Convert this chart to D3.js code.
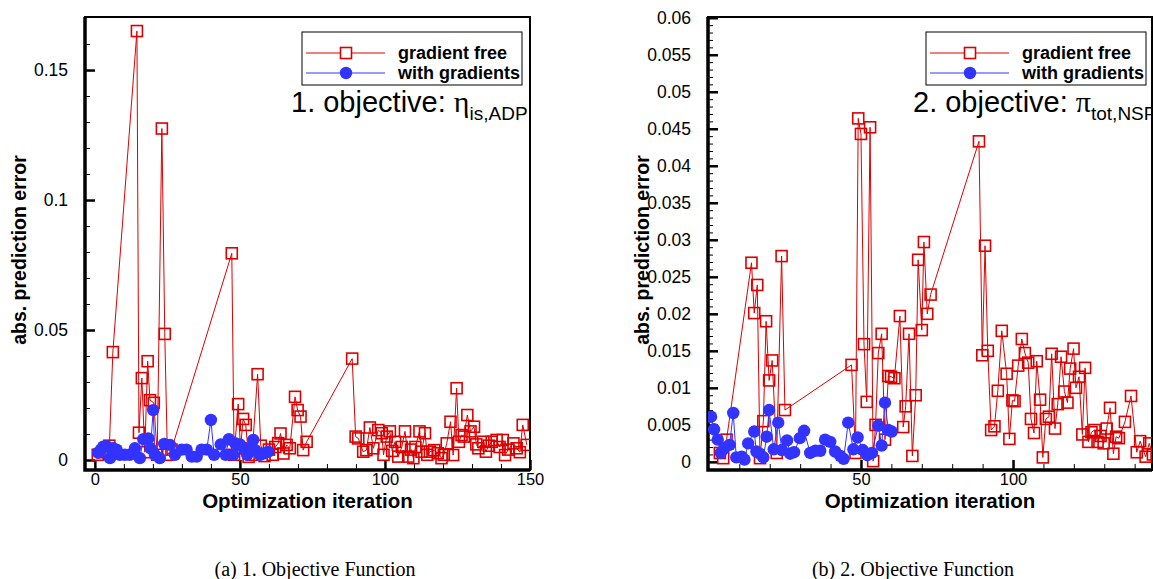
<!DOCTYPE html>
<html>
<head>
<meta charset="utf-8">
<script src="https://cdn.jsdelivr.net/npm/d3@7"></script>
<style>
  html, body { margin: 0; padding: 0; background: #fff; }
  svg { display: block; }
  .tick text { font-family: "Liberation Sans", Arial, sans-serif; font-size: 17.5px; fill: #000; }
  .xax .tick text { font-size: 16.5px; }
  .ttl { font-family: "Liberation Sans", Arial, sans-serif; font-weight: bold; fill: #000; }
  .cap { font-family: "Liberation Serif", "Times New Roman", serif; fill: #000; }
</style>
</head>
<body>
<svg id="chart" width="1153" height="579"></svg>
<script>
// Prediction error per optimization iteration: [iteration, error]
const etaGradFree = [
  [1, 0.002], [2.5, 0.003], [4, 0.004], [5, 0.0055], [6.2, 0.0415], [14.5, 0.165], [15.2, 0.0105],
  [16.2, 0.0315], [17.2, 0.003], [18.2, 0.038], [19, 0.023], [20.3, 0.022], [21.5, 0.002],
  [23.1, 0.1275], [24.1, 0.0485], [25, 0.002], [26.4, 0.004], [47.2, 0.0795], [48, 0.002],
  [49.4, 0.0215], [50.2, 0.0045], [51.1, 0.0158], [52, 0.0135], [53, 0.0012], [54.2, 0.002],
  [56.1, 0.033], [57.2, 0.0055], [58.5, 0.0015], [60, 0.004], [61.3, 0.002], [62.2, 0.005],
  [63.2, 0.0065], [64, 0.0102], [65, 0.0025], [66.1, 0.0058], [67.2, 0.0045], [69, 0.0243],
  [69.9, 0.0192], [70.9, 0.0167], [71.8, 0.0038], [73, 0.007], [88.7, 0.039], [89.9, 0.009],
  [90.8, 0.0083], [92.5, 0.0032], [93.6, 0.0038], [94.8, 0.0125], [96, 0.0045], [97.7, 0.0115],
  [98.9, 0.0103], [99.5, 0.002], [100.6, 0.009], [101.7, 0.011], [102.5, 0.0035], [103.5, 0.007],
  [104.6, 0.0013], [105.8, 0.005], [106.9, 0.011], [108, 0.0013], [109, 0.004], [109.8, 0.0007],
  [110.5, 0.005], [111.9, 0.011], [112.6, 0.0032], [113.8, 0.0103], [114.6, 0.002], [115.5, 0.0032],
  [117, 0.0038], [118.2, 0.0026], [119.5, 0.0007], [120.3, 0.002], [121.3, 0.0064], [122.6, 0.0147],
  [123.5, 0.0019], [124.7, 0.0276], [125.5, 0.007], [126.4, 0.0096], [127.2, 0.009], [128.4, 0.0173],
  [129.5, 0.011], [130.7, 0.0128], [131.5, 0.006], [132.2, 0.0045], [133.9, 0.007], [134.8, 0.0032],
  [135.8, 0.0055], [136.8, 0.007], [138.5, 0.0077], [139.5, 0.005], [140.6, 0.0077], [141.4, 0.0019],
  [142.5, 0.004], [144.3, 0.0064], [145.4, 0.0045], [146.5, 0.003], [147.5, 0.0135], [148.9, 0.0058]
];

const etaWithGrad = [
  [1.1, 0.0028], [2.2, 0.004], [2.9, 0.0051], [4, 0.0053], [5.2, 0.0007], [6.3, 0.0045], [7.5, 0.004],
  [8.6, 0.002], [10.3, 0.002], [12, 0.002], [13.8, 0.0045], [15.5, 0.0007], [16.7, 0.008], [18.4, 0.0083],
  [19.2, 0.0045], [20.1, 0.0192], [20.7, 0.002], [22.4, 0.0007], [23.9, 0.0062], [25.9, 0.0058],
  [27.6, 0.002], [29.9, 0.004], [31.6, 0.004], [33.4, 0.0013], [35.1, 0.0013], [36.8, 0.004],
  [38.6, 0.004], [40, 0.0154], [41.1, 0.002], [43.4, 0.006], [45.1, 0.002], [46.2, 0.008], [47.7, 0.002],
  [48.3, 0.0065], [49.2, 0.0058], [50, 0.006], [51.4, 0.0045], [52.5, 0.002], [53.5, 0.0045],
  [54.6, 0.0077], [55.3, 0.0038], [56.9, 0.002], [58.6, 0.0026], [59.8, 0.0032]
];

const piGradFree = [
  [3.6, 0.0012], [4.7, 0.0005], [5.8, 0.003], [14, 0.0269], [14.9, 0.0201], [15.9, 0.0239], [16.8, 0.0005],
  [17.9, 0.0055], [18.8, 0.019], [19.8, 0.011], [20.8, 0.0137], [22.3, 0.0012], [23.9, 0.0278], [25, 0.007],
  [46.9, 0.0131], [48.2, 0.0012], [49.1, 0.0464], [50, 0.0443], [51, 0.0159], [51.9, 0.0081], [53, 0.0452],
  [54, 0.0001], [54.8, 0.005], [55.7, 0.0147], [56.8, 0.0173], [57.9, 0.003], [59, 0.0116], [59.9, 0.0115],
  [61, 0.0113], [62.8, 0.0197], [63.9, 0.0047], [64.7, 0.0075], [65.8, 0.0173], [66.9, 0.0008], [68, 0.009],
  [68.8, 0.0273], [70, 0.0178], [70.7, 0.0297], [71.8, 0.02], [72.9, 0.0226], [88.8, 0.0433], [89.9, 0.0144],
  [90.8, 0.0292], [91.7, 0.015], [92.8, 0.0043], [93.9, 0.0048], [95, 0.0096], [96.3, 0.0177], [97.9, 0.0119],
  [98.8, 0.0031], [99.8, 0.0083], [100.5, 0.0082], [101.7, 0.013], [102.9, 0.0166], [103.9, 0.0147],
  [105, 0.0134], [105.9, 0.0058], [106.9, 0.0039], [107.8, 0.0136], [108.9, 0.0084], [109.8, 0.0006],
  [110.8, 0.0058], [111.8, 0.0061], [112.7, 0.0146], [113.8, 0.0045], [114.7, 0.0078], [115.8, 0.0142],
  [116.9, 0.0095], [117.9, 0.008], [118.8, 0.0126], [119.9, 0.0153], [120.7, 0.01], [121.7, 0.0115],
  [122.8, 0.0037], [123.7, 0.0127], [124.8, 0.0027], [125.8, 0.004], [126.8, 0.0043], [127.8, 0.0027],
  [128.8, 0.0035], [129.8, 0.0025], [130.8, 0.0045], [131.9, 0.0073], [133, 0.0011], [133.9, 0.0034],
  [134.8, 0.0032], [136.8, 0.0054], [138.8, 0.0089], [140.7, 0.0013], [141.8, 0.0028], [143.6, 0.0007],
  [144.8, 0.0025], [146, 0.001]
];

const piWithGrad = [
  [0.7, 0.0061], [1.7, 0.0044], [2.9, 0.003], [3.9, 0.0012], [5.2, 0.0019], [6.8, 0.0023], [8, 0.0066],
  [9, 0.0006], [10.8, 0.0007], [11.7, 0.0003], [12.9, 0.0025], [14.9, 0.0041], [15.6, 0.0014], [16.7, 0.0011],
  [17.9, 0.0006], [19, 0.0034], [19.8, 0.007], [21.3, 0.0017], [22.8, 0.0053], [24, 0.0016], [25.7, 0.0029],
  [26.7, 0.0011], [28, 0.0013], [29.9, 0.0032], [31.3, 0.0042], [33.3, 0.0012], [35, 0.0015], [36.6, 0.0015],
  [38.2, 0.003], [39.9, 0.0027], [41.5, 0.0014], [43.2, 0.0008], [44.3, 0.0004], [45.8, 0.0053],
  [47.5, 0.0017], [48.9, 0.0033], [50.6, 0.0016], [52.1, 0.0009], [53.6, 0.0012], [55.7, 0.0049],
  [56.8, 0.0022], [57.9, 0.008], [59, 0.0043], [60.1, 0.0041]
];

const seriesNames = ['gradient free', 'with gradients'];
const etaYTicks = [0, 0.05, 0.1, 0.15];
const piYTicks = [0, 0.005, 0.01, 0.015, 0.02, 0.025, 0.03, 0.035, 0.04, 0.045, 0.05, 0.055, 0.06];
const etaXTicks = [0, 50, 100, 150];
const piXTicks = [50, 100];

const RED = '#dd0000';
const BLUE = '#3333ff';
const svg = d3.select('#chart');

/* one panel: frame, axes, series, legend, annotation */
function drawPanel(p) {
  const x = d3.scaleLinear().domain(p.xDomain).range([p.left, p.right]);
  const y = d3.scaleLinear().domain(p.yDomain).range([p.bottom, p.top]);
  const g = svg.append('g');

  const clipId = 'clip-' + p.id;
  svg.append('clipPath').attr('id', clipId)
    .append('rect')
    .attr('x', p.left).attr('y', p.top)
    .attr('width', p.right - p.left).attr('height', p.bottom - p.top);

  // minor ticks
  g.append('g').attr('transform', `translate(${p.left},0)`)
    .call(d3.axisLeft(y).tickValues(p.yMinor).tickSize(-5).tickFormat(''))
    .call(a => a.select('.domain').remove())
    .selectAll('line').attr('stroke-width', 1);
  g.append('g').attr('transform', `translate(0,${p.bottom})`)
    .call(d3.axisBottom(x).tickValues(p.xMinor).tickSize(-6).tickFormat(''))
    .call(a => a.select('.domain').remove())
    .selectAll('line').attr('stroke-width', 1);

  // major ticks + labels
  g.append('g').attr('transform', `translate(${p.left},0)`)
    .call(d3.axisLeft(y).tickValues(p.yTicks).tickSize(-10).tickPadding(17)
      .tickFormat(d => d === 0 ? '0' : String(+d.toFixed(3))))
    .call(a => a.select('.domain').remove())
    .call(a => a.selectAll('line').attr('stroke-width', 2.5));
  g.append('g').attr('class', 'xax').attr('transform', `translate(0,${p.bottom})`)
    .call(d3.axisBottom(x).tickValues(p.xTicks).tickSize(-10).tickPadding(3))
    .call(a => a.select('.domain').remove())
    .call(a => a.selectAll('line').attr('stroke-width', 2.5));

  // frame
  g.append('rect')
    .attr('x', p.left).attr('y', p.top)
    .attr('width', p.right - p.left).attr('height', p.bottom - p.top)
    .attr('fill', 'none').attr('stroke', '#000').attr('stroke-width', 2);
  g.append('path')
    .attr('d', `M${p.left},${p.top}V${p.bottom}H${p.right}`)
    .attr('fill', 'none').attr('stroke', '#000').attr('stroke-width', 3.5);

  // series
  const line = d3.line().x(d => x(d[0])).y(d => y(d[1]));
  const marks = g.append('g').attr('clip-path', `url(#${clipId})`);

  marks.append('path').datum(p.free)
    .attr('d', line).attr('fill', 'none').attr('stroke', RED).attr('stroke-width', 1);
  marks.selectAll('rect.free').data(p.free).enter().append('rect')
    .attr('class', 'free')
    .attr('x', d => x(d[0]) - 5.5).attr('y', d => y(d[1]) - 5.5)
    .attr('width', 11).attr('height', 11)
    .attr('fill', 'none').attr('stroke', RED).attr('stroke-width', 1.6);

  marks.append('path').datum(p.grad)
    .attr('d', line).attr('fill', 'none').attr('stroke', BLUE).attr('stroke-width', 1);
  marks.selectAll('circle.grad').data(p.grad).enter().append('circle')
    .attr('class', 'grad')
    .attr('cx', d => x(d[0])).attr('cy', d => y(d[1])).attr('r', 6.2)
    .attr('fill', BLUE);

  // axis titles
  g.append('text').attr('class', 'ttl')
    .attr('transform', `translate(${p.left - 59},250) rotate(-90)`)
    .attr('text-anchor', 'middle').attr('font-size', 19.5)
    .text('abs. prediction error');
  g.append('text').attr('class', 'ttl')
    .attr('x', (p.left + p.right) / 2).attr('y', 508)
    .attr('text-anchor', 'middle').attr('font-size', 20.5)
    .text('Optimization iteration');

  // legend
  const lg = g.append('g').attr('transform', `translate(${p.legendX},32)`);
  lg.append('rect').attr('width', 220).attr('height', 53)
    .attr('fill', '#fff').attr('stroke', '#000').attr('stroke-width', 1);
  seriesNames.forEach((name, i) => {
    const ly = 21 + i * 20;
    const col = i === 0 ? RED : BLUE;
    lg.append('line').attr('x1', 4).attr('x2', 83).attr('y1', ly).attr('y2', ly)
      .attr('stroke', col).attr('stroke-width', 1);
    if (i === 0) {
      lg.append('rect').attr('x', 38.5).attr('y', ly - 5.5).attr('width', 11).attr('height', 11)
        .attr('fill', '#fff').attr('stroke', col).attr('stroke-width', 1.6);
    } else {
      lg.append('circle').attr('cx', 44).attr('cy', ly).attr('r', 6.2).attr('fill', col);
    }
    lg.append('text').attr('class', 'ttl').attr('x', 96).attr('y', ly + 6)
      .attr('font-size', 18).text(name);
  });

  // annotation (the right one runs past the page edge, as in the original)
  const an = g.append('text').attr('x', p.noteX).attr('y', 112)
    .attr('font-family', '"Liberation Sans", Arial, sans-serif').attr('font-size', 29);
  an.append('tspan').text(p.noteText + ' ');
  an.append('tspan').attr('font-family', '"Liberation Serif", serif').attr('font-size', 30)
    .text(p.noteSymbol);
  an.append('tspan').attr('font-size', 19).attr('dy', 8).text(p.noteSub);
}

drawPanel({
  id: 'eta', left: 85, right: 530, top: 17, bottom: 470,
  xDomain: [-3.4, 150], yDomain: [-0.00385, 0.1704],
  xTicks: etaXTicks, xMinor: d3.range(10, 150, 10),
  yTicks: etaYTicks, yMinor: d3.range(0, 0.17, 0.01),
  free: etaGradFree, grad: etaWithGrad,
  legendX: 302, noteX: 291,
  noteText: '1. objective:', noteSymbol: 'η', noteSub: 'is,ADP'
});

drawPanel({
  id: 'pi', left: 708, right: 1152, top: 17, bottom: 470,
  xDomain: [-0.3, 145.7], yDomain: [-0.0011, 0.0601],
  xTicks: piXTicks, xMinor: d3.range(10, 146, 10),
  yTicks: piYTicks, yMinor: d3.range(0, 0.0605, 0.001),
  free: piGradFree, grad: piWithGrad,
  legendX: 926, noteX: 913,
  noteText: '2. objective:', noteSymbol: 'π', noteSub: 'tot,NSP'
});

// sub-figure captions
svg.append('text').attr('class', 'cap').attr('x', 315).attr('y', 576)
  .attr('text-anchor', 'middle').attr('font-size', 20).text('(a) 1. Objective Function');
svg.append('text').attr('class', 'cap').attr('x', 913).attr('y', 576)
  .attr('text-anchor', 'middle').attr('font-size', 20).text('(b) 2. Objective Function');
</script>
</body>
</html>
